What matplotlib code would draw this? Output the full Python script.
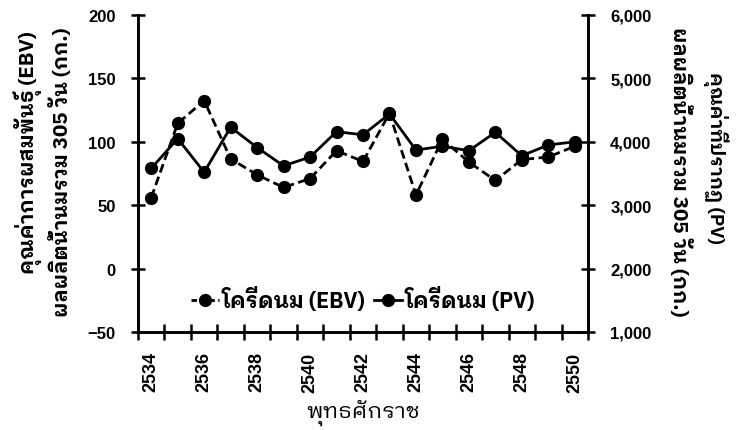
import matplotlib
matplotlib.use("Agg")
import matplotlib.pyplot as plt
import matplotlib.font_manager as fm
from matplotlib.ft2font import FT2Font
from matplotlib.ticker import FuncFormatter, FixedLocator, NullFormatter
from matplotlib.lines import Line2D

years = [2534, 2535, 2536, 2537, 2538, 2539, 2540, 2541, 2542,
         2543, 2544, 2545, 2546, 2547, 2548, 2549, 2550]
ebv = [56, 114.5, 132.5, 86.5, 74, 64, 71, 93, 84.5,
       122.5, 58, 102, 84, 69.5, 86, 88, 96.5]
pv = [3580, 4050, 3520, 4230, 3910, 3620, 3760, 4160, 4110,
      4440, 3870, 3930, 3860, 4150, 3780, 3950, 4000]
year_labels = [2534, 2536, 2538, 2540, 2542, 2544, 2546, 2548, 2550]
left_ticks = [-50, 0, 50, 100, 150, 200]
right_ticks = [1000, 2000, 3000, 4000, 5000, 6000]

left_label_1 = "คุณค่าการผสมพันธุ์ (EBV)"
left_label_2 = "ผลผลิตน้ำนมรวม 305 วัน (กก.)"
right_label_1 = "คุณค่าที่ปรากฏ (PV)"
right_label_2 = "ผลผลิตน้ำนมรวม 305 วัน (กก.)"
x_label = "พุทธศักราช"
legend_ebv = "โครีดนม (EBV)"
legend_pv = "โครีดนม (PV)"


def find_thai_font():
    names = set()
    for f in fm.fontManager.ttflist:
        try:
            cm = FT2Font(f.fname).get_charmap()
        except Exception:
            continue
        if 0x0E01 in cm and 0x0E38 in cm:
            names.add(f.name)
    for p in ["IBM Plex Sans Thai Looped", "Noto Sans Thai Looped", "Loma",
              "Noto Sans Thai"]:
        if p in names:
            return p
    return sorted(names)[0] if names else None


thai_font = find_thai_font()
latin = "Liberation Sans"
thai_family = [thai_font, latin, "DejaVu Sans"] if thai_font else [latin, "DejaVu Sans"]
plt.rcParams["font.family"] = [latin, "DejaVu Sans"]

fig = plt.figure(figsize=(7.40, 4.31), dpi=100)
ax = fig.add_axes([138 / 740, 1 - 333 / 431, 450 / 740, 317 / 431])
ax2 = ax.twinx()

lw_spine = 1.9
ax.plot(years, ebv, linestyle=(0, (3.2, 1.6)), color="black", lw=2.0,
        marker="o", markersize=8.5, zorder=3)
ax2.plot(years, pv, linestyle="-", color="black", lw=2.0,
         marker="o", markersize=8.5, zorder=3)

ax.set_xlim(2533.5, 2550.5)
ax.set_ylim(-50, 200)
ax2.set_ylim(1000, 6000)

ax.set_yticks(left_ticks)
ax2.set_yticks(right_ticks)
ax2.yaxis.set_major_formatter(FuncFormatter(lambda v, p: f"{int(v):,}"))

boundaries = [y - 0.5 for y in years] + [years[-1] + 0.5]
ax.xaxis.set_major_locator(FixedLocator(boundaries))
ax.xaxis.set_major_formatter(NullFormatter())
ax.xaxis.set_minor_locator(FixedLocator(year_labels))
ax.set_xticklabels([str(y) for y in year_labels], minor=True)

for a in (ax, ax2):
    for s in a.spines.values():
        s.set_linewidth(lw_spine)
ax.spines["top"].set_visible(False)
ax2.spines["top"].set_visible(False)

ax.tick_params(axis="x", which="major", direction="inout", length=12, width=1.8)
ax.tick_params(axis="x", which="minor", length=0, pad=14, labelsize=13,
               labelrotation=90)
ax.tick_params(axis="y", direction="inout", length=10, width=1.8, pad=11,
               labelsize=12)
ax2.tick_params(axis="y", direction="inout", length=10, width=1.8, pad=11,
                labelsize=12)
for lab in ax.get_xticklabels(minor=True) + ax.get_yticklabels() + ax2.get_yticklabels():
    lab.set_fontweight("bold")

# axis titles
fig.text(28 / 740, 1 - 153 / 431, left_label_1, rotation=90, ha="center",
         va="center", fontsize=14.8, fontweight="bold", family=thai_family)
fig.text(61 / 740, 1 - 172 / 431, left_label_2, rotation=90, ha="center",
         va="center", fontsize=14.8, fontweight="bold", family=thai_family)
fig.text(716 / 740, 1 - 158 / 431, right_label_1, rotation=270, ha="center",
         va="center", fontsize=13.5, fontweight="bold", family=thai_family)
fig.text(680 / 740, 1 - 172 / 431, right_label_2, rotation=270, ha="center",
         va="center", fontsize=14.8, fontweight="bold", family=thai_family)
fig.text(363 / 740, 1 - 413 / 431, x_label, ha="center", va="center",
         fontsize=16, family=thai_family)

handles = [
    Line2D([], [], linestyle=(0, (2, 1.2)), color="black", lw=2.0, marker="o",
           markersize=8.5),
    Line2D([], [], linestyle="-", color="black", lw=2.0, marker="o",
           markersize=8.5),
]
leg = ax.legend(handles, [legend_ebv, legend_pv], loc="center",
                frameon=False, ncol=2,
                handlelength=1.3, handletextpad=0.1, columnspacing=0.4,
                prop={"family": thai_family, "size": 15.5, "weight": "bold"})
leg.set_bbox_to_anchor((0.5, (333 - 300) / 317), transform=ax.transAxes)

fig.savefig("out.png", dpi=100)
